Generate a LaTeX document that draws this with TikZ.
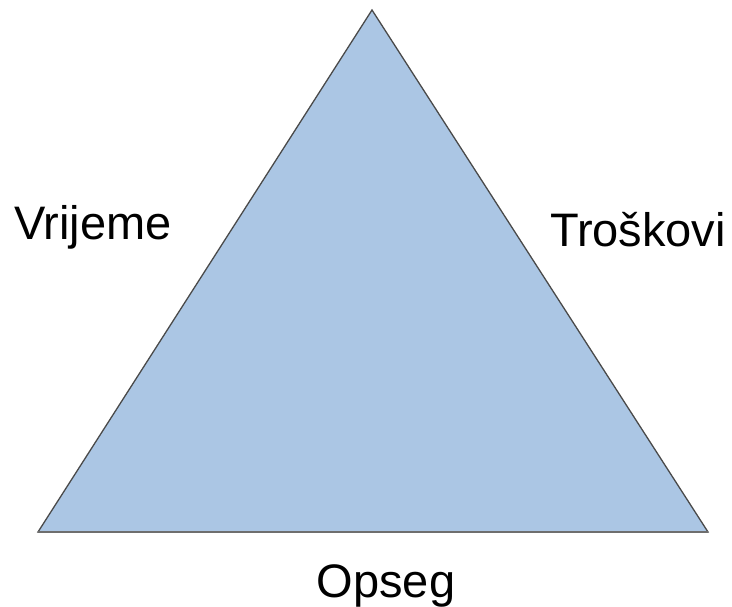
\documentclass[tikz,border=0pt]{standalone}
\usepackage{fontspec}
\setmainfont{Liberation Sans}
\usetikzlibrary{positioning}
\definecolor{triblue}{HTML}{ABC6E4}
\definecolor{triedge}{HTML}{4A4A4A}
\tikzset{
semithick, % All lines semithick
my label/.style={font=\fontsize{47}{56}\selectfont,inner sep=0pt,anchor=base},
my triangle/.style={fill=triblue,draw=triedge,line width=1.3pt,line join=miter},
my base/.style={draw=triedge!80,line width=2.4pt}
}
\begin{document}
\begin{tikzpicture}[x=1pt,y=-1pt]
\useasboundingbox (0,0) rectangle (732,607);
\coordinate (top)   at (372,10);
\coordinate (left)  at (38,532);
\coordinate (right) at (708,532);

\draw[my triangle] (top) -- (right) -- (left) -- cycle;
\draw[my base] (left) -- (right);

\node[my label] (time)  at (93,240)  {Vrijeme};
\node[my label] (cost)  at (638,247) {Troškovi};
\node[my label] (scope) at (386,597) {Opseg};
\end{tikzpicture}
\end{document}
